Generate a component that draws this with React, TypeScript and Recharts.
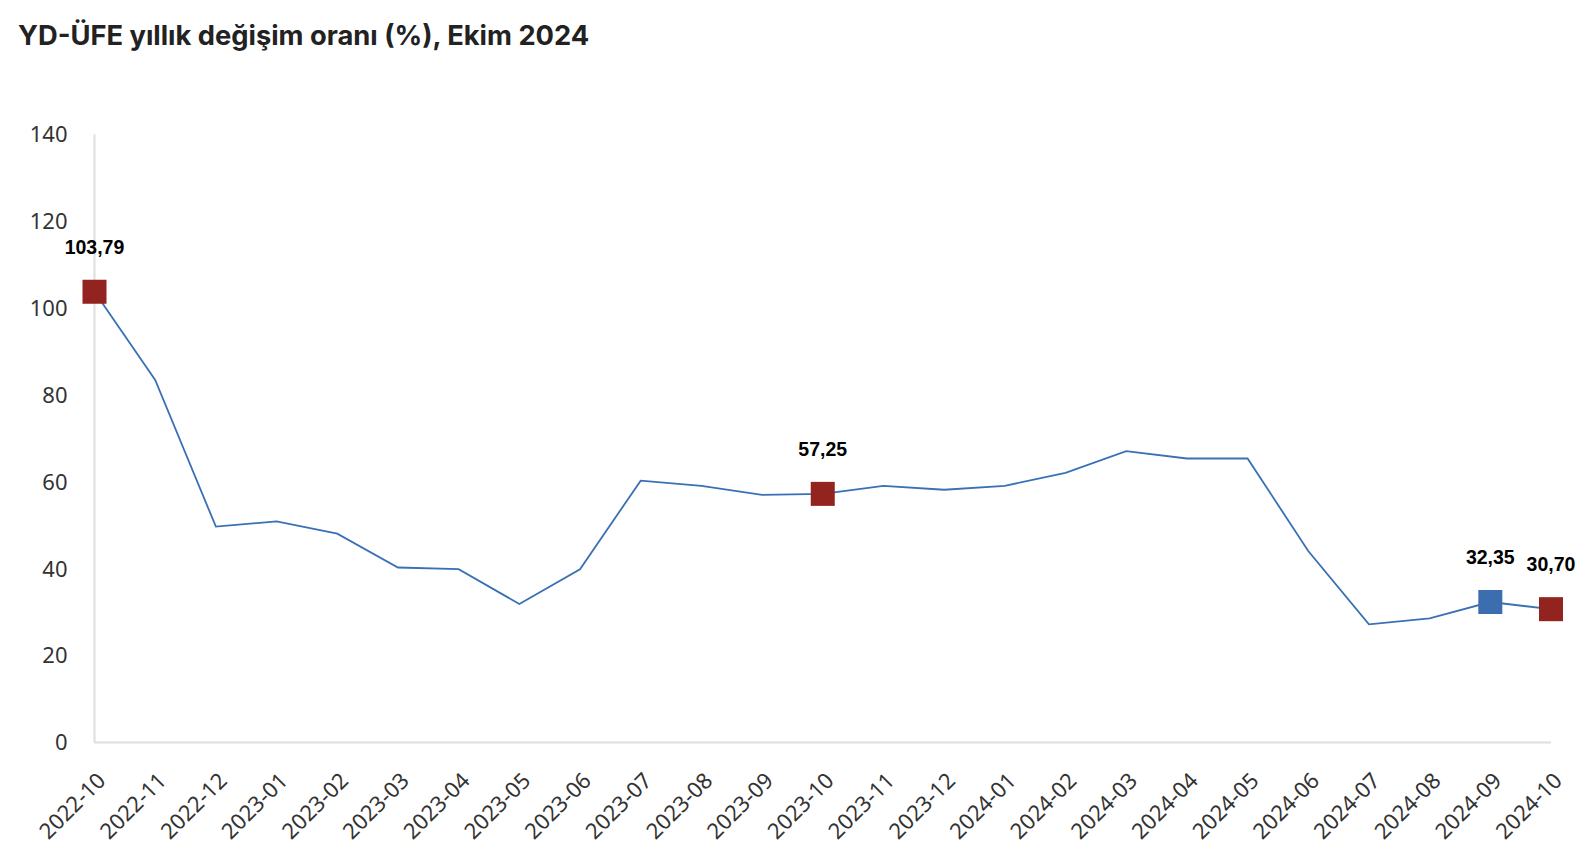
import { LineChart, Line, XAxis, YAxis } from 'recharts';

const months = [
  '2022-10', '2022-11', '2022-12', '2023-01', '2023-02', '2023-03', '2023-04', '2023-05', '2023-06',
  '2023-07', '2023-08', '2023-09', '2023-10', '2023-11', '2023-12', '2024-01', '2024-02', '2024-03',
  '2024-04', '2024-05', '2024-06', '2024-07', '2024-08', '2024-09', '2024-10',
];
const yoyChange = [
  103.79, 83.5, 49.7, 50.9, 48.1, 40.3, 39.9, 31.9, 39.9,
  60.3, 59.1, 57.0, 57.25, 59.1, 58.2, 59.1, 62.1, 67.1,
  65.4, 65.4, 44.1, 27.2, 28.6, 32.35, 30.7,
];
const yTicks = [0, 20, 40, 60, 80, 100, 120, 140];
// months that get a square marker and value label
const highlightRed = ['2022-10', '2023-10', '2024-10'];
const highlightBlue = ['2024-09'];

const data = months.map((m, i) => ({ month: m, value: yoyChange[i] }));

const RED = '#93231f';
const BLUE = '#3a6eaf';
const LINE = '#3a70b5';
const TICK_FONT = "'Noto Sans', 'Open Sans', sans-serif";

const isMarked = (m: string) => highlightRed.includes(m) || highlightBlue.includes(m);

const SquareDot = (props: any) => {
  const { cx, cy, payload } = props;
  if (!payload || !isMarked(payload.month)) return <g key={props.index} />;
  const fill = highlightBlue.includes(payload.month) ? BLUE : RED;
  const s = 24;
  return <rect key={props.index} x={cx - s / 2} y={cy - s / 2} width={s} height={s} fill={fill} />;
};

const ValueLabel = (props: any) => {
  const { x, y, index } = props;
  const m = months[index];
  if (!isMarked(m)) return null;
  return (
    <text
      x={x}
      y={y - 38}
      textAnchor="middle"
      fontFamily="'Liberation Sans', Arial, sans-serif"
      fontWeight={700}
      fontSize={19.5}
      fill="#000"
    >
      {yoyChange[index].toFixed(2).replace('.', ',')}
    </text>
  );
};

const XTick = (props: any) => {
  const { x, y, payload } = props;
  return (
    <g transform={`translate(${x + 12.5},${y + 39.5}) rotate(-45)`}>
      <text x={0} y={0} textAnchor="end" fontFamily={TICK_FONT} fontSize={22} fill="#333">
        {payload.value}
      </text>
    </g>
  );
};

export default function App() {
  return (
    <div style={{ position: 'relative', width: 1580, height: 850, background: '#fff', overflow: 'hidden' }}>
      <div
        style={{
          position: 'absolute',
          left: 10,
          top: 11,
          fontFamily: 'Inter, Roboto, sans-serif',
          fontWeight: 700,
          fontSize: 27.3,
          color: '#222',
          whiteSpace: 'nowrap',
        }}
      >
        YD-ÜFE yıllık değişim oranı (%), Ekim 2024
      </div>
      <LineChart
        width={1580}
        height={850}
        data={data}
        margin={{ top: 126.5, right: 37, left: 26.5, bottom: 15.5 }}
      >
        <XAxis
          dataKey="month"
          interval={0}
          height={100}
          stroke="#dedede"
          strokeWidth={2}
          tickLine={false}
          tickSize={0}
          tickMargin={0}
          tick={<XTick />}
        />
        <YAxis
          domain={[0, 140]}
          ticks={yTicks}
          width={60}
          stroke="#dedede"
          strokeWidth={2}
          tickLine={false}
          tickSize={0}
          tickMargin={27}
          tick={{ fill: '#333', fontSize: 22, fontFamily: TICK_FONT }}
        />
        <Line
          type="linear"
          dataKey="value"
          stroke={LINE}
          strokeWidth={1.8}
          dot={<SquareDot />}
          activeDot={false}
          label={<ValueLabel />}
          isAnimationActive={false}
        />
      </LineChart>
    </div>
  );
}
